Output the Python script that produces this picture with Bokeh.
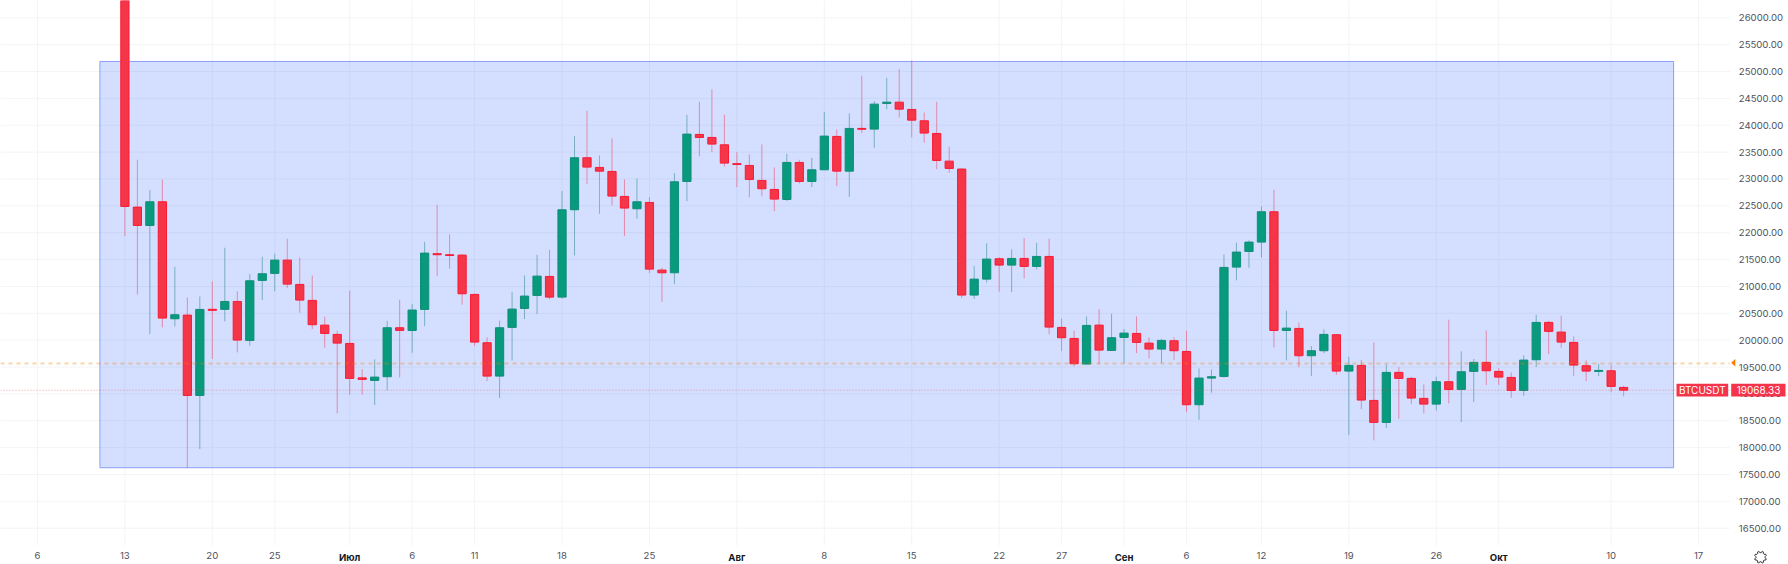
import math
from bokeh.plotting import figure
from bokeh.embed import file_html
from bokeh.resources import INLINE
from bokeh.models import (ColumnDataSource, FixedTicker, LinearAxis, Label, NumeralTickFormatter,
                          PolyAnnotation, Range1d)

# candle rows, one value list each (day index = days after 13 June)
opens = [26574,22476,22135,22576,20398,20466,18971,20574,20573,20720,19995,21112,21242,21490,21037,20740,20280,20107,19939,19298,19250,19319,20231,20181,20572,21610,21590,21583,20851,19952,19331,20237,20590,20832,21186,20801,22427,23395,23215,23140,22675,22445,22563,21304,21254,22954,23829,23773,23636,23285,23252,22973,22805,22619,23308,22954,23171,23792,23146,23941,23928,24406,24430,24294,24083,23847,23332,23184,20839,21136,21515,21397,21521,21372,21558,20237,20032,19555,20280,19809,20051,20125,19945,19834,19989,19790,18798,19294,19325,21360,21651,21825,22390,20181,20218,19710,19803,20101,19424,19530,18878,18469,19400,19288,18916,18810,19226,19083,19418,19586,19418,19306,19064,19635,20330,20150,19958,19524,19418,19430,19120]
highs = [26900,23357,22793,22991,21366,20795,20814,21093,21720,20907,21230,21552,21608,21887,21540,21205,20435,20175,20919,19462,19641,20355,20752,20671,21831,22520,21968,21602,20868,20051,20361,20901,21205,21589,21682,22774,23798,24269,23438,23754,22991,23010,22662,21347,23109,24195,24437,24666,24195,23500,23457,23643,23215,23469,23357,23394,24244,23922,24220,24921,24449,24883,25044,25206,24238,24437,23599,23202,21385,21803,21546,21689,21900,21813,21887,20404,20175,20442,20578,20491,20206,20442,20051,20026,20051,20175,19474,19455,21595,21813,21856,22489,22799,20547,20330,19890,20200,20107,19691,19629,19958,19548,19499,19319,19176,19319,20380,19790,19648,20181,19480,19400,19716,20473,20361,20454,20069,19623,19561,19536,19150]
lows = [21937,20851,20113,20237,20255,17625,17973,19648,20349,19772,19896,20746,20907,20969,20510,20206,19858,18637,18984,18984,18792,19064,19306,19765,20262,21192,21329,20659,19890,19238,18921,19623,20392,20485,20758,20770,21577,22904,22352,22507,21937,22259,21248,20715,21043,22588,23419,23500,23233,22849,22662,22681,22402,22588,22917,22849,23165,22867,22669,23854,23581,24294,24145,23773,23674,23184,23115,20783,20764,21074,20901,20894,21149,21316,20107,19796,19511,19549,19548,19803,19573,19759,19660,19573,19635,18661,18518,19021,19300,21112,21347,21540,19865,19623,19499,19331,19759,19356,18233,18717,18134,18364,18537,18810,18637,18692,18822,18475,18847,19164,19170,18928,18965,19499,19741,19858,19337,19238,19331,19027,18953]
closes = [22489,22135,22576,20411,20473,18971,20572,20555,20720,20001,21105,21236,21490,21043,20746,20287,20125,19945,19288,19270,19312,20231,20181,20560,21620,21590,21575,20863,19964,19331,20231,20578,20820,21192,20801,22427,23395,23221,23146,22681,22458,22576,21322,21254,22948,23835,23773,23649,23295,23270,22991,22818,22625,23308,22954,23171,23798,23146,23941,23925,24393,24430,24300,24095,23854,23345,23196,20839,21136,21509,21397,21521,21372,21558,20243,20045,19561,20274,19815,20045,20131,19958,19834,19995,19803,18798,19294,19319,21354,21639,21825,22390,20181,20224,19710,19803,20107,19424,19530,18885,18469,19400,19288,18922,18810,19226,19083,19412,19586,19430,19312,19064,19629,20330,20163,19964,19536,19424,19437,19139,19068.33]

day_ticks = [-7,0,7,12,23,28,35,42,56,63,70,75,85,91,98,105,119,126]
day_labels = ["6","13","20","25","6","11","18","25","8","15","22","27","6","12","19","26","10","17"]
month_ticks = [18,49,80,110]
month_labels = ["Июл","Авг","Сен","Окт"]
price_ticks = [16500,17000,17500,18000,18500,19000,19500,20000,20500,21000,21500,22000,22500,23000,23500,24000,24500,25000,25500,26000]

box_start, box_end, box_top, box_bottom = -2, 124, 25187, 17625
last_price = 19068.33
ref_price = 19567
symbol = "BTCUSDT"

# the frame fills the whole canvas; the pane ends at PANE_X / PANE_Y
X0, X1 = -9.96, 133.2
Y0, Y1 = 15824, 26322
PANE_X, PANE_Y = 128.5, 16178
FONT = "Inter"
H = 564

p = figure(width=1788, height=H, output_backend="svg", toolbar_location=None,
           x_range=Range1d(X0, X1), y_range=Range1d(Y0, Y1),
           x_axis_type=None, y_axis_type=None,
           min_border_left=0, min_border_top=0, min_border_right=0, min_border_bottom=0,
           outline_line_color=None, background_fill_color="white", border_fill_color="white")

GRID = "#f3f4f6"
all_ticks = sorted(day_ticks + month_ticks)
p.segment(x0=all_ticks, x1=all_ticks, y0=[PANE_Y] * len(all_ticks), y1=[Y1] * len(all_ticks), line_color=GRID, line_width=1)
p.segment(x0=[X0] * len(price_ticks), x1=[PANE_X] * len(price_ticks), y0=price_ticks, y1=price_ticks, line_color=GRID, line_width=1)

# selection rectangle
p.quad(left=[box_start], right=[box_end], top=[box_top], bottom=[box_bottom],
       fill_color="#2660ff", fill_alpha=0.2, line_color="#8d9ef7", line_width=1)

days = list(range(len(opens)))
up = [c >= o for o, c in zip(opens, closes)]
src = ColumnDataSource(dict(
    x=days, high=highs, low=lows,
    top=[max(o, c) for o, c in zip(opens, closes)],
    bottom=[min(o, c) for o, c in zip(opens, closes)],
    fill=["#089a7c" if u else "#f53649" for u in up],
    edge=["#0f8d78" if u else "#fb1a35" for u in up],
    wick=["#1f7f80" if u else "#f0385a" for u in up],
))
p.segment(x0="x", x1="x", y0="low", y1="high", source=src, line_color="wick", line_alpha=0.5, line_width=1)
p.vbar(x="x", width=0.66, top="top", bottom="bottom", source=src, fill_color="fill", line_color="edge", line_width=1)

p.segment(x0=[X0], x1=[PANE_X], y0=[ref_price], y1=[ref_price], line_color="#f57c00", line_alpha=0.33, line_width=2, line_dash="4 4")
p.segment(x0=[X0], x1=[PANE_X], y0=[last_price], y1=[last_price], line_color="#f23645", line_alpha=0.6, line_width=0.8, line_dash="1 2")

# axes
common = dict(axis_line_color=None, major_tick_line_color=None, minor_tick_line_color=None,
              major_label_text_font=FONT, major_label_text_font_size="9.6px")
ax = LinearAxis(ticker=FixedTicker(ticks=day_ticks), major_label_overrides=dict(zip(day_ticks, day_labels)),
                fixed_location=PANE_Y, major_label_text_color="#50535e", major_label_standoff=1, **common)
p.add_layout(ax, "below")
ax2 = LinearAxis(ticker=FixedTicker(ticks=month_ticks), major_label_overrides=dict(zip(month_ticks, month_labels)),
                 fixed_location=PANE_Y, major_label_text_font_style="bold", major_label_text_color="#131722",
                 major_label_standoff=1, **common)
p.add_layout(ax2, "below")
ay = LinearAxis(ticker=FixedTicker(ticks=price_ticks), formatter=NumeralTickFormatter(format="0.00"),
                fixed_location=PANE_X, major_label_text_color="#50535e", major_label_standoff=3, **common)
p.add_layout(ay, "right")

# price-scale decorations drawn in screen space
def poly(xs, ys, **kw):
    a = PolyAnnotation(xs=xs, ys=[H - v for v in ys], xs_units="canvas", ys_units="screen", level="overlay", **kw)
    p.add_layout(a)

LABEL_RED = "#f5334a"
ly = 389.7
poly([1676, 1727.7, 1727.7, 1676], [ly-6.4, ly-6.4, ly+6.4, ly+6.4], fill_color=LABEL_RED, fill_alpha=1, line_color=None)
poly([1730.7, 1785, 1785, 1730.7], [ly-6.4, ly-6.4, ly+6.4, ly+6.4], fill_color=LABEL_RED, fill_alpha=1, line_color=None)
poly([1730.7, 1734.8, 1734.8], [362.3, 358.6, 366], fill_color="#f57c00", fill_alpha=1, line_color=None)

# settings icon
cx, cy, n = 1760, 556.7, 8
gx, gy = [], []
for k in range(n * 4):
    a = 2 * math.pi * (k + 0.5) / (n * 4)
    r = 6.0 if k % 4 in (1, 2) else 4.6
    gx.append(cx + r * math.cos(a)); gy.append(cy + r * math.sin(a))
poly(gx, gy, fill_color="white", fill_alpha=1, line_color="#2a2e39", line_alpha=1, line_width=1)

for txt, x in ((symbol, 1701.8), (f"{last_price:.2f}", 1758)):
    p.add_layout(Label(x=x, y=H - ly, x_units="screen", y_units="screen", text=txt, text_color="white",
                       text_font=FONT, text_font_size="10px", text_font_style="normal", text_align="center", text_baseline="middle",
                       level="overlay"))

open("out.html", "w").write(file_html(p, INLINE))
